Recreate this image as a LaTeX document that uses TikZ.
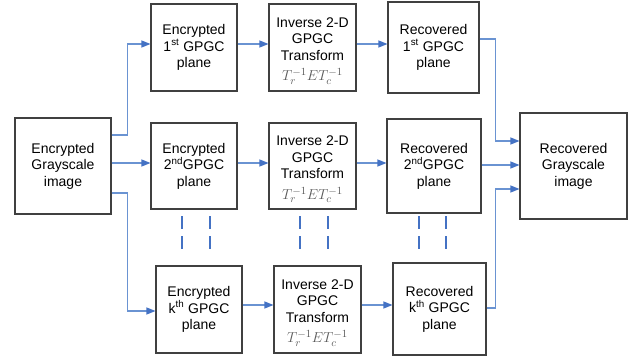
\documentclass[tikz,border=0pt]{standalone}
\usepackage{fontspec}
\setmainfont{Liberation Sans}
\usetikzlibrary{arrows.meta,calc}
\definecolor{boxline}{HTML}{404040}
\definecolor{conn}{HTML}{6A93D2}
\definecolor{tipc}{HTML}{4472C4}
\definecolor{mathc}{HTML}{595959}
\begin{document}
\begin{tikzpicture}[x=1pt,y=-1pt,
  blk/.style={draw=boxline,line width=1.1pt,align=center,inner sep=0pt,
    font=\fontsize{14}{16.5}\selectfont,text=black},
  txt/.style={align=center,inner sep=0pt,font=\fontsize{14}{16.5}\selectfont,text=black},
  fml/.style={inner sep=0pt,font=\fontsize{15}{17}\selectfont,text=mathc},
  arr/.style={draw=conn,line width=1.2pt,-{Triangle[length=9pt,width=7pt,color=tipc]}},
  dsh/.style={draw=tipc,line width=1.6pt,dash pattern=on 13pt off 7pt}]
\useasboundingbox (0,0) rectangle (631,356);
\node[blk,minimum width=96pt,minimum height=96pt] (L) at (63,166) {Encrypted\\Grayscale\\image};
\node[blk,minimum width=86pt,minimum height=87pt] (E1) at (194,47.5) {Encrypted\\1\textsuperscript{st} GPGC\\plane};
\node[blk,minimum width=87pt,minimum height=87pt] (I1) at (312.5,47.5) {};
\node[blk,minimum width=91pt,minimum height=91pt] (R1) at (433.5,47.5) {Recovered\\1\textsuperscript{st} GPGC\\plane};
\node[blk,minimum width=86pt,minimum height=86pt] (E2) at (194,166) {Encrypted\\2\textsuperscript{nd}GPGC\\plane};
\node[blk,minimum width=87pt,minimum height=86pt] (I2) at (312.5,166) {};
\node[blk,minimum width=94pt,minimum height=94pt] (R2) at (434,166) {Recovered\\2\textsuperscript{nd}GPGC\\plane};
\node[blk,minimum width=107pt,minimum height=106pt] (RG) at (573.5,166) {Recovered\\Grayscale\\image};
\node[blk,minimum width=86pt,minimum height=87pt] (Ek) at (199,309.5) {Encrypted\\k\textsuperscript{th} GPGC\\plane};
\node[blk,minimum width=87pt,minimum height=87pt] (Ik) at (317.5,309.5) {};
\node[blk,minimum width=93pt,minimum height=92pt] (Rk) at (439.5,309) {Recovered\\k\textsuperscript{th} GPGC\\plane};
% texts of the transform boxes
\foreach \b in {I1,I2,Ik}{
  \node[txt] (\b t) at ([yshift=8.5pt]\b.center) {Inverse 2-D\\GPGC\\Transform};
  \node[fml] (\b f) at ([yshift=-29pt]\b.center) {$T_r^{-1}ET_c^{-1}$};
}
% connectors
\draw[arr] ([yshift=31pt]L.east) -- ++(16,0) |- ([yshift=3.5pt]E1.west);
\draw[arr] ([yshift=3pt]L.east) -- ([yshift=3pt]E2.west);
\draw[arr] ([yshift=-27pt]L.east) -- ++(16,0) |- ([yshift=-1.5pt]Ek.west);
\draw[arr] ([yshift=3.5pt]E1.east) -- ([yshift=3.5pt]I1.west);
\draw[arr] ([yshift=3.5pt]I1.east) -- ([yshift=3.5pt]R1.west);
\draw[arr] ([yshift=3pt]E2.east) -- ([yshift=3pt]I2.west);
\draw[arr] ([yshift=3pt]I2.east) -- ([yshift=3pt]R2.west);
\draw[arr] ([yshift=4.5pt]Ek.east) -- ([yshift=4.5pt]Ik.west);
\draw[arr] ([yshift=4.5pt]Ik.east) -- ([yshift=4pt]Rk.west);
\draw[arr] ([yshift=8.5pt]R1.east) -| ([xshift=-24pt,yshift=25pt]RG.west) -- ([yshift=25pt]RG.west);
\draw[arr] ([yshift=1pt]R2.east) -- ([yshift=1pt]RG.west);
\draw[arr] ([yshift=1pt]Rk.east) -| ([xshift=-24pt,yshift=-23pt]RG.west) -- ([yshift=-23pt]RG.west);
% dashed continuation marks
\foreach \xx in {182,210,300,328,419,446}
  \draw[dsh] (\xx,216) -- (\xx,250);
\end{tikzpicture}
\end{document}
